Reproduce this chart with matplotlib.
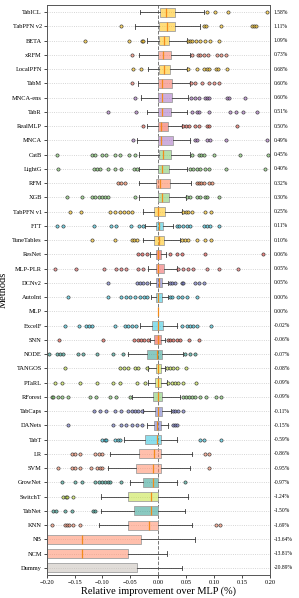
import numpy as np
import matplotlib
matplotlib.use("Agg")
import matplotlib.pyplot as plt
from matplotlib.colors import to_rgba

plt.rcParams['font.family'] = ['Liberation Serif', 'DejaVu Serif']

# methods, top to bottom
methods = ['TabICL', 'TabPFN v2', 'BETA', 'xRFM', 'LocalPFN', 'TabM', 'MNCA-ens', 'TabR',
           'RealMLP', 'MNCA', 'CatB', 'LightG', 'RFM', 'XGB', 'TabPFN v1', 'FTT',
           'TuneTables', 'ResNet', 'MLP-PLR', 'DCNv2', 'AutoInt', 'MLP', 'ExcelF', 'SNN',
           'NODE', 'TANGOS', 'PTaRL', 'RForest', 'TabCaps', 'DANets', 'TabT', 'LR',
           'SVM', 'GrowNet', 'SwitchT', 'TabNet', 'KNN', 'NB', 'NCM', 'Dummy']

mean_labels = ['1.58%', '1.11%', '1.09%', '0.73%', '0.68%', '0.60%', '0.60%', '0.51%',
               '0.50%', '0.49%', '0.45%', '0.40%', '0.32%', '0.30%', '0.25%', '0.11%',
               '0.10%', '0.06%', '0.05%', '0.05%', '0.00%', '0.00%', '-0.02%', '-0.06%',
               '-0.07%', '-0.08%', '-0.09%', '-0.09%', '-0.11%', '-0.15%', '-0.59%', '-0.86%',
               '-0.95%', '-0.97%', '-1.24%', '-1.50%', '-1.69%', '-13.64%', '-13.81%', '-20.89%']

# box statistics
q1 = [0.003, 0.002, 0.002, 0.000, 0.002, 0.000, 0.000, 0.000, 0.000, -0.001,
      0.001, -0.001, -0.004, -0.001, -0.007, -0.005, -0.008, -0.005, -0.005, -0.004,
      -0.004, 0.0, -0.011, -0.007, -0.021, -0.005, -0.006, -0.009, -0.006, -0.007,
      -0.024, -0.034, -0.040, -0.027, -0.054, -0.043, -0.054, -0.35, -0.40, -0.60]
med = [0.014, 0.015, 0.011, 0.008, 0.011, 0.006, 0.006, 0.006, 0.005, 0.005,
       0.008, 0.006, 0.003, 0.006, 0.000, 0.001, 0.001, 0.000, 0.000, 0.001,
       0.000, 0.0, -0.001, -0.001, -0.002, -0.001, -0.001, -0.001, -0.001, -0.002,
       -0.003, -0.008, -0.009, -0.009, -0.013, -0.014, -0.017, -0.136, -0.136, -0.50]
q3 = [0.030, 0.030, 0.020, 0.023, 0.021, 0.024, 0.024, 0.023, 0.018, 0.026,
      0.023, 0.020, 0.021, 0.020, 0.012, 0.009, 0.011, 0.005, 0.011, 0.007,
      0.006, 0.0, 0.009, 0.005, 0.006, 0.005, 0.005, 0.007, 0.006, 0.004,
      0.005, 0.004, 0.004, 0.000, 0.000, 0.000, 0.000, -0.031, -0.054, -0.039]
whislo = [-0.033, -0.042, -0.021, -0.034, -0.018, -0.036, -0.031, -0.021, -0.021, -0.039,
          -0.034, -0.034, -0.034, -0.034, -0.028, -0.024, -0.028, -0.015, -0.019, -0.015,
          -0.013, 0.0, -0.033, -0.015, -0.054, -0.018, -0.018, -0.048, -0.027, -0.021,
          -0.061, -0.087, -0.091, -0.050, -0.103, -0.103, -0.106, -0.9, -0.9, -1.0]
whishi = [0.082, 0.074, 0.051, 0.057, 0.052, 0.057, 0.054, 0.051, 0.042, 0.057,
          0.057, 0.052, 0.058, 0.049, 0.042, 0.027, 0.039, 0.014, 0.033, 0.018,
          0.017, 0.0, 0.033, 0.012, 0.044, 0.012, 0.015, 0.039, 0.022, 0.018,
          0.034, 0.060, 0.057, 0.033, 0.054, 0.047, 0.060, 0.065, 0.016, 0.043]

fliers = [
    [0.087, 0.102, 0.125, 0.194],
    [-0.066, 0.082, 0.085, 0.112, 0.167, 0.171, 0.175],
    [-0.131, -0.052, -0.030, -0.027, 0.053, 0.056, 0.060, 0.067, 0.075, 0.084, 0.093, 0.108],
    [-0.048, 0.060, 0.071, 0.075, 0.081, 0.089, 0.105, 0.112, 0.121],
    [-0.045, -0.031, 0.054, 0.069, 0.082, 0.087, 0.091, 0.103, 0.106, 0.123],
    [-0.048, 0.059, 0.065, 0.078, 0.090, 0.099, 0.108],
    [-0.042, 0.059, 0.066, 0.073, 0.084, 0.088, 0.091, 0.123, 0.127, 0.155],
    [-0.090, -0.040, 0.060, 0.069, 0.073, 0.091, 0.128, 0.139, 0.152, 0.177],
    [-0.027, 0.045, 0.050, 0.055, 0.066, 0.073, 0.087, 0.091, 0.141],
    [-0.045, 0.066, 0.069, 0.087, 0.093, 0.121, 0.194],
    [-0.182, -0.118, -0.113, -0.101, -0.093, -0.078, -0.069, -0.052, -0.042,
     0.060, 0.072, 0.076, 0.081, 0.099, 0.146, 0.197],
    [-0.179, -0.116, -0.110, -0.104, -0.090, -0.078, -0.067, -0.043, -0.039,
     0.057, 0.063, 0.069, 0.075, 0.084, 0.090, 0.121, 0.191],
    [-0.073, -0.066, -0.060, 0.069, 0.073, 0.077, 0.082, 0.090, 0.097],
    [-0.164, -0.137, -0.118, -0.113, -0.107, -0.101, -0.095, -0.090, -0.042,
     0.052, 0.057, 0.069, 0.075, 0.084, 0.088, 0.109],
    [-0.158, -0.139, -0.087, -0.078, -0.069, -0.061, -0.055, -0.048,
     0.045, 0.050, 0.054, 0.061, 0.084, 0.094],
    [-0.182, -0.170, -0.115, -0.084, -0.075, -0.049, -0.034, -0.027,
     0.033, 0.037, 0.045, 0.051, 0.057, 0.081, 0.087, 0.093, 0.109],
    [-0.119, -0.078, -0.048, -0.043, -0.039, 0.042, 0.047, 0.054, 0.069, 0.084, 0.094],
    [-0.036, -0.030, -0.021, 0.021, 0.033, 0.042, 0.084, 0.188],
    [-0.185, -0.147, -0.097, -0.075, -0.066, -0.057, -0.036, -0.027,
     0.036, 0.045, 0.054, 0.063, 0.088, 0.109, 0.143],
    [-0.091, -0.039, -0.033, -0.027, -0.021, 0.021, 0.024, 0.030, 0.042, 0.045, 0.066, 0.072, 0.081],
    [-0.161, -0.090, -0.066, -0.058, -0.051, -0.042, -0.033, -0.026, -0.021,
     0.021, 0.024, 0.036, 0.042, 0.051, 0.069],
    [],
    [-0.167, -0.142, -0.130, -0.124, -0.119, -0.078, -0.060, -0.054, -0.048, -0.040,
     0.042, 0.052, 0.057, 0.063, 0.070, 0.094],
    [-0.177, -0.099, -0.043, -0.037, -0.031, -0.025, -0.018, 0.018, 0.021, 0.027, 0.033, 0.039, 0.055, 0.072],
    [-0.195, -0.182, -0.176, -0.170, -0.143, -0.134, -0.110, -0.081, -0.063, 0.048, 0.056, 0.066],
    [-0.167, -0.069, -0.062, -0.054, -0.042, -0.036, -0.021, 0.015, 0.021, 0.027, 0.033, 0.049],
    [-0.185, -0.173, -0.140, -0.110, -0.081, -0.069, -0.039, -0.024, 0.018, 0.024, 0.030, 0.036, 0.045, 0.068],
    [-0.191, -0.188, -0.179, -0.173, -0.161, -0.122, -0.112, -0.087, -0.075, -0.051,
     0.045, 0.050, 0.055, 0.060, 0.066, 0.075, 0.085, 0.103, 0.112],
    [-0.115, -0.105, -0.093, -0.078, -0.066, -0.054, -0.048, -0.042, -0.036, -0.030, 0.026, 0.030, 0.036, 0.045],
    [-0.161, -0.081, -0.066, -0.057, -0.048, -0.039, -0.030, 0.026, 0.030, 0.033],
    [-0.101, -0.096, -0.093, -0.078, -0.072, -0.069, 0.075, 0.081, 0.112],
    [-0.155, -0.150, -0.140, -0.113, -0.107, -0.101, 0.084, 0.091],
    [-0.179, -0.155, -0.150, -0.140, -0.121, -0.110, -0.104, -0.101, 0.090],
    [-0.173, -0.150, -0.136, -0.113, -0.107, -0.101, -0.095, -0.090, -0.087, -0.067, 0.047],
    [-0.170, -0.166, -0.164, -0.152],
    [-0.188, -0.183, -0.168, -0.154, -0.117, -0.113],
    [-0.191, -0.167, -0.163, -0.160, -0.152, -0.140, 0.103, 0.111],
    [],
    [],
    [],
]

gold = '#ffc20e'
salmon = '#ff8c69'
purple = '#a56cc1'
green = '#78c864'
cyan = '#2ec4de'
blue = '#6a70c8'
teal = '#2a9d8f'
lime = '#c4e33e'
colors = [gold, gold, gold, '#fa7a60', gold, '#f46a5a', purple, purple,
          '#f05848', purple, green, green, '#ff7f50', green, gold, cyan,
          gold, '#e8403a', '#f06060', blue, cyan, '#ff7f0e', cyan, '#e84a3a',
          teal, lime, lime, green, blue, blue, cyan, salmon,
          salmon, teal, lime, teal, salmon, salmon, salmon, '#c8c0b8']

n = len(methods)
pos = np.arange(n)

stats = []
for i in range(n):
    stats.append(dict(label=methods[i], q1=q1[i], med=med[i], q3=q3[i],
                      whislo=whislo[i], whishi=whishi[i], fliers=fliers[i]))

fig = plt.figure(figsize=(2.99, 5.98), dpi=100)
ax = fig.add_axes([0.156, 0.0385, 0.747, 0.953])

ax.yaxis.grid(True, linestyle=':', color='#c8c8c8', linewidth=0.6, zorder=0)
ax.axvline(0, linestyle='--', color='#777777', linewidth=0.7, zorder=1)

bp = ax.bxp(stats, positions=pos, widths=0.62, orientation='horizontal', patch_artist=True,
            showfliers=False,
            medianprops=dict(color='#f28a1a', linewidth=0.9),
            whiskerprops=dict(color='#3a3a3a', linewidth=0.6),
            capprops=dict(color='#3a3a3a', linewidth=0.6),
            boxprops=dict(linewidth=0.6))
for i, box in enumerate(bp['boxes']):
    box.set_facecolor(to_rgba(colors[i], 0.55))
    box.set_edgecolor('#a0a0a0')

# outliers drawn as small hollow circles with coloured fill
for i in range(n):
    if len(fliers[i]) == 0:
        continue
    ax.plot(fliers[i], [pos[i]] * len(fliers[i]), 'o', markersize=2.3,
            markerfacecolor=to_rgba(colors[i], 0.6), markeredgecolor='#333333',
            markeredgewidth=0.45, linestyle='none', zorder=3)

ax.set_xlim(-0.20, 0.20)
ax.set_ylim(n - 0.5, -0.5)
ax.set_yticks(pos)
ax.set_yticklabels(methods, fontsize=4.6)
ax.set_xticks([-0.20, -0.15, -0.10, -0.05, 0.00, 0.05, 0.10, 0.15, 0.20])
ax.set_xticklabels(['%.2f' % v for v in [-0.20, -0.15, -0.10, -0.05, 0.00, 0.05, 0.10, 0.15, 0.20]],
                   fontsize=4.6)
ax.xaxis.set_major_formatter(plt.FuncFormatter(lambda v, p: ('%.2f' % v).replace('-', '\u2212')))
ax.tick_params(axis='both', length=2, width=0.5, pad=1.5)

for i in range(n):
    ax.text(1.015, pos[i], mean_labels[i], transform=ax.get_yaxis_transform(),
            fontsize=4.0, va='center', ha='left')

for s in ax.spines.values():
    s.set_color('#555555')
    s.set_linewidth(0.7)

ax.set_xlabel('Relative improvement over MLP (%)', fontsize=7.5, labelpad=1)
ax.set_ylabel('Methods', fontsize=7.5, labelpad=3)

fig.savefig('out.png', dpi=100)
